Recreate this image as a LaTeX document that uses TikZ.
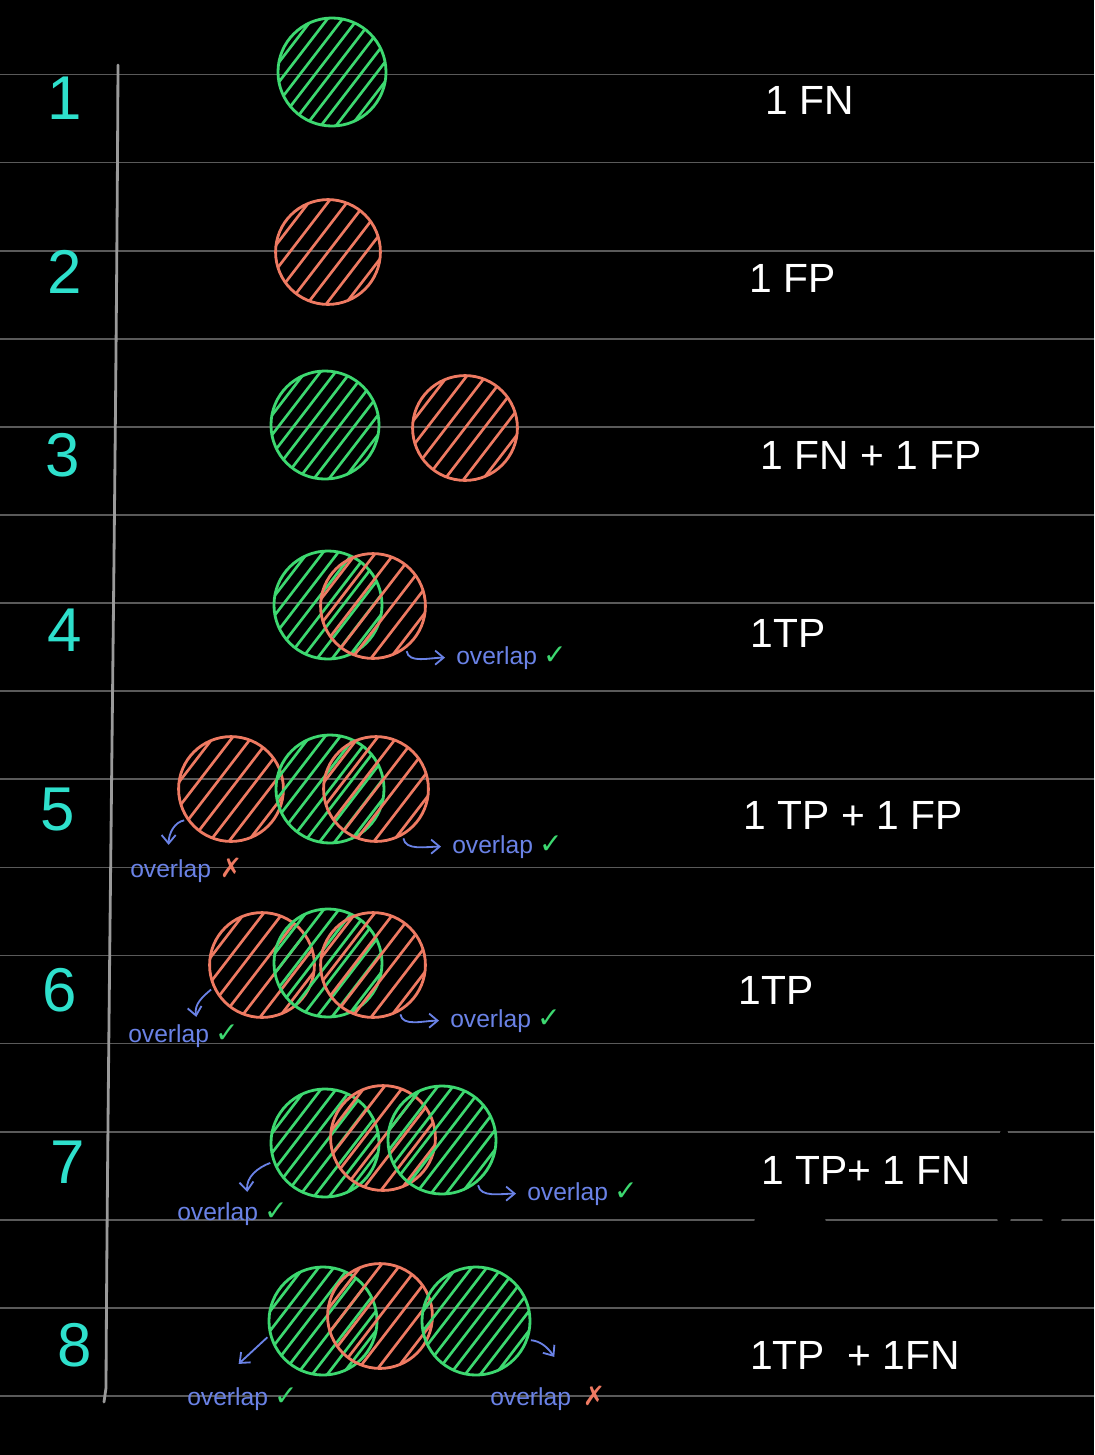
\documentclass[tikz,border=0pt]{standalone}
\usepackage{fontspec}
\setmainfont{Liberation Sans}
\newfontfamily\symf{DejaVu Sans}
\usetikzlibrary{arrows.meta,positioning,calc}

\definecolor{fngreen}{HTML}{3DD870}
\definecolor{fpred}{HTML}{EE7A62}
\definecolor{numteal}{HTML}{2EE0CC}
\definecolor{ovblue}{HTML}{6A82E6}
\definecolor{rulegray}{HTML}{5A5A5A}
\definecolor{margray}{HTML}{9A9A9A}

\begin{document}
\begin{tikzpicture}[
  x=0.025cm, y=0.025cm,
  disc/.style n args={3}{circle, draw=#1, line width=2pt, minimum size=#2,
       inner sep=0pt, path picture={
         \foreach \k in {-7,...,7}
           \draw[#1, line width=1.9pt, line cap=round]
             ($(path picture bounding box.center)+({\k*#3-40},{-\k*#3*0.77-52})$) -- ++(80,104);}},
  gdisc/.style={disc={fngreen}{2.7cm}{9.5}},
  rdisc/.style={disc={fpred}{2.62cm}{12}},
  num/.style={text=numteal, font=\fontsize{44}{48}\selectfont, inner sep=0pt},
  lbl/.style={text=white, font=\fontsize{29}{32}\selectfont, inner sep=0pt},
  ovl/.style={text=ovblue, font=\fontsize{17.5}{20}\selectfont, inner sep=0pt, anchor=base west},
  okmark/.style={text=fngreen, font=\symf\fontsize{20}{22}\selectfont, inner sep=0pt},
  badmark/.style={text=fpred, font=\symf\fontsize{19}{22}\selectfont, inner sep=0pt},
  arr/.style={ovblue, line width=1.3pt, shorten <=2pt,
              -{Straight Barb[length=6pt,width=10pt]}}
]
\fill[black] (0,0) rectangle (1094,-1455);
\useasboundingbox (0,0) rectangle (1094,-1455);

% ruled paper
\foreach \k in {0,...,15}
  \draw[rulegray, line width=1.2pt] (0,{-74.5-88.1*\k}) -- (1094,{-74.5-88.1*\k});
\draw[margray, line width=2pt, line cap=round]
  (118,-65) .. controls (116,-500) and (108,-1000) .. (106,-1388) -- (104,-1402);
% erased bits
\fill[black] (790,-1222) ellipse [x radius=36, y radius=13];
\fill[black] (1004,-1185) ellipse [x radius=8, y radius=60];
\fill[black] (1052,-1208) ellipse [x radius=11, y radius=24];

% row numbers
\node[num] (n1) at (65,-98) {1};
\node[num] (n2) at (65,-272) {2};
\node[num] (n3) at (63,-455) {3};
\node[num] (n4) at (65,-630) {4};
\node[num] (n5) at (58,-810) {5};
\node[num] (n6) at (60,-990) {6};
\node[num] (n7) at (68,-1162) {7};
\node[num] (n8) at (75,-1345) {8};

% boxes: green = ground truth, red = prediction
\node[gdisc] (g1) at (332,-72) {};
\node[rdisc] (r2) at (328,-252) {};
\node[gdisc] (g3) at (325,-425) {};
\node[rdisc] (r3) at (465,-428) {};
\node[gdisc] (g4) at (328,-605) {};
\node[rdisc] (r4) at (373,-606) {};
\node[rdisc] (r5a) at (231,-789) {};
\node[gdisc] (g5) at (330,-789) {};
\node[rdisc] (r5b) at (376,-789) {};
\node[rdisc] (r6a) at (262,-965) {};
\node[gdisc] (g6) at (328,-963) {};
\node[rdisc] (r6b) at (373,-965) {};
\node[gdisc] (g7a) at (325,-1143) {};
\node[rdisc] (r7) at (383,-1138) {};
\node[gdisc] (g7b) at (442,-1140) {};
\node[gdisc] (g8a) at (323,-1321) {};
\node[rdisc] (r8) at (380,-1316) {};
\node[gdisc] (g8b) at (476,-1321) {};

% outcomes
\node[lbl] (o1) at (810,-100) {1 FN};
\node[lbl] (o2) at (793,-278) {1 FP};
\node[lbl] (o3) at (871,-455) {1 FN + 1 FP};
\node[lbl] (o4) at (788,-633) {1TP};
\node[lbl] (o5) at (853,-815) {1 TP + 1 FP};
\node[lbl] (o6) at (776,-990) {1TP};
\node[lbl] (o7) at (866,-1170) {1 TP+ 1 FN};
\node[lbl] (o8) at (855,-1355) {1TP \ + 1FN};

% overlap notes
\node[ovl] (ov4) at (456,-664) {overlap};
\node[okmark, right=4pt of ov4.base east, anchor=base west] (ck4) {✓};
\node[ovl] (ov5r) at (452,-853) {overlap};
\node[okmark, right=4pt of ov5r.base east, anchor=base west] (ck5r) {✓};
\node[ovl] (ov5l) at (130,-877) {overlap};
\node[badmark, right=6pt of ov5l.base east, anchor=base west] (x5l) {✗};
\node[ovl] (ov6r) at (450,-1027) {overlap};
\node[okmark, right=4pt of ov6r.base east, anchor=base west] (ck6r) {✓};
\node[ovl] (ov6l) at (128,-1042) {overlap};
\node[okmark, right=4pt of ov6l.base east, anchor=base west] (ck6l) {✓};
\node[ovl] (ov7r) at (527,-1200) {overlap};
\node[okmark, right=4pt of ov7r.base east, anchor=base west] (ck7r) {✓};
\node[ovl] (ov7l) at (177,-1220) {overlap};
\node[okmark, right=4pt of ov7l.base east, anchor=base west] (ck7l) {✓};
\node[ovl] (ov8l) at (187,-1405) {overlap};
\node[okmark, right=4pt of ov8l.base east, anchor=base west] (ck8l) {✓};
\node[ovl] (ov8r) at (490,-1405) {overlap};
\node[badmark, right=8pt of ov8r.base east, anchor=base west] (x8r) {✗};

\draw[arr] (r4.-52) to[out=-80,in=180] ($(ov4.west)+(-11,0)$);
\draw[arr] (r5b.-60) to[out=-80,in=180] ($(ov5r.west)+(-11,0)$);
\draw[arr] (r5a.-145) to[out=190,in=90] ($(ov5l.north)+(-2,14)$);
\draw[arr] (r6b.-60) to[out=-80,in=180] ($(ov6r.west)+(-11,0)$);
\draw[arr] (r6a.-155) to[out=220,in=100] ($(ov6l.north east)+(-13,7)$);
\draw[arr] (g7b.-50) to[out=-80,in=180] ($(ov7r.west)+(-11,0)$);
\draw[arr] (g7a.-160) to[out=200,in=95] ($(ov7l.north east)+(-11,10)$);
\draw[arr] (g8a.-165) -- ($(ov8l.north)+(11,23)$);
\draw[arr] (g8b.-20) to[out=-5,in=125] ($(ov8r.north east)+(-17,30)$);
\end{tikzpicture}
\end{document}
